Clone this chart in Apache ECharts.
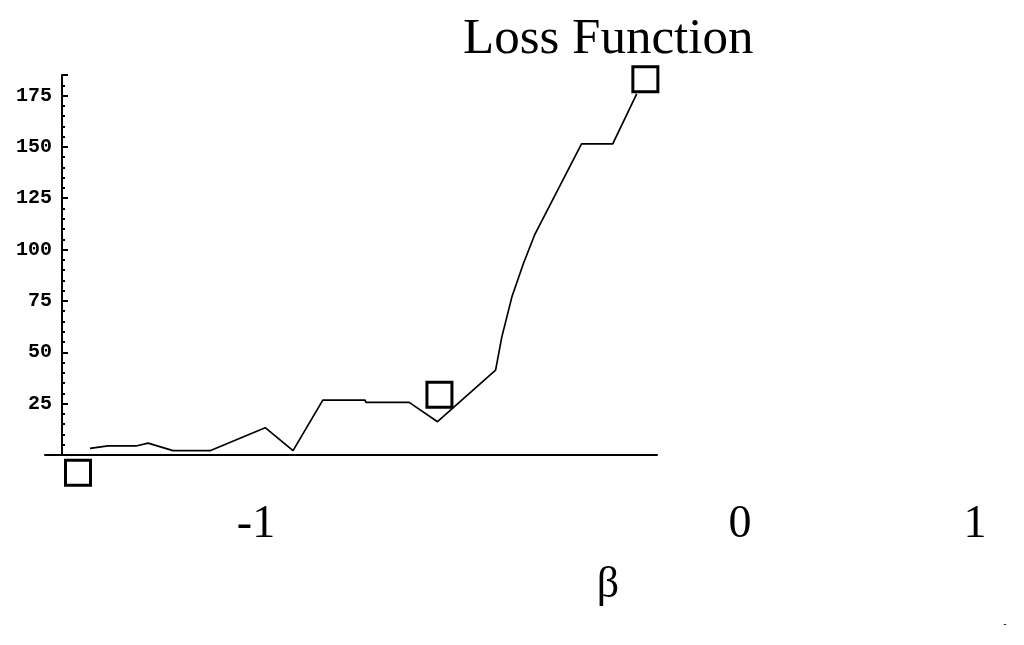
<!DOCTYPE html>
<html>
<head>
<meta charset="utf-8">
<script src="https://cdn.jsdelivr.net/npm/echarts@6/dist/echarts.min.js"></script>
<style>html,body{margin:0;padding:0;background:#fff}#c{width:1024px;height:645px}</style>
</head>
<body>
<div id="c"></div>
<script>
// Loss curve samples (beta, loss)
const betaValues = [-1.35, -1.3125, -1.254, -1.229, -1.177, -1.1, -0.985, -0.927, -0.865, -0.777, -0.775, -0.685, -0.626, -0.505, -0.492, -0.471, -0.447, -0.424, -0.326, -0.261, -0.211];
const lossValues = [3.2, 4.4, 4.4, 5.8, 2.1, 2.1, 13.3, 2.1, 26.7, 26.7, 25.6, 25.6, 16.2, 41.3, 57.5, 77.0, 93.2, 107.0, 151.5, 151.5, 175.8];
// Highlighted square markers
const markerBeta = [-1.375, -0.622, -0.193];
const markerLoss = [-8.7, 29.3, 182.9];
// Text
const titleText = 'Loss Function';
const xTickLabels = ['-1', '0', '1'];
const xAxisName = 'β';
const yTicks = [25, 50, 75, 100, 125, 150, 175];

const chart = echarts.init(document.getElementById('c'));
const serif = '"Liberation Serif", "Times New Roman", serif';
chart.setOption({
  animation: false,
  backgroundColor: '#fff',
  grid: { left: 45, right: 367, top: 75, bottom: 190, containLabel: false },
  xAxis: {
    type: 'value', min: -1.44375, max: -0.16875,
    axisLine: { show: true, onZero: true, lineStyle: { color: '#000', width: 2 } },
    axisTick: { show: false }, axisLabel: { show: false }, splitLine: { show: false }
  },
  yAxis: {
    type: 'value', min: 0, max: 185, interval: 25, offset: -17,
    axisLine: { show: true, lineStyle: { color: '#000', width: 2 } },
    axisTick: { show: true, inside: true, length: 6, lineStyle: { color: '#000', width: 2 } },
    minorTick: { show: true, splitNumber: 5, length: 3, lineStyle: { color: '#000', width: 2 } },
    axisLabel: {
      margin: 10, color: '#000', fontFamily: '"Liberation Mono", "DejaVu Sans Mono", monospace', fontSize: 20, fontWeight: 'bold',
      showMaxLabel: false,
      formatter: v => (yTicks.indexOf(v) >= 0 ? String(v) : '')
    },
    splitLine: { show: false }
  },
  series: [
    {
      type: 'line', data: betaValues.map((b, i) => [b, lossValues[i]]),
      showSymbol: false, symbol: 'none', lineStyle: { color: '#000', width: 1.7 }, z: 2
    },
    {
      type: 'scatter', data: markerBeta.map((b, i) => [b, markerLoss[i]]), clip: false,
      symbol: 'rect', symbolSize: 25,
      itemStyle: { color: 'rgba(255,255,255,0)', borderColor: '#000', borderWidth: 3, opacity: 1 }, z: 3
    }
  ],
  graphic: [
    { type: 'text', left: 463, top: 14, style: { text: titleText, font: '51px ' + serif, fill: '#000' } },
    { type: 'text', x: 256, y: 525, style: { text: xTickLabels[0], font: '46px ' + serif, fill: '#000', align: 'center', verticalAlign: 'middle' } },
    { type: 'text', x: 740, y: 525, style: { text: xTickLabels[1], font: '46px ' + serif, fill: '#000', align: 'center', verticalAlign: 'middle' } },
    { type: 'text', x: 975, y: 525, style: { text: xTickLabels[2], font: '46px ' + serif, fill: '#000', align: 'center', verticalAlign: 'middle' } },
    { type: 'text', x: 608, y: 585, style: { text: xAxisName, font: '44px ' + serif, fill: '#000', align: 'center', verticalAlign: 'middle' } },
    { type: 'text', x: 1005, y: 624, style: { text: '-', font: '10px ' + serif, fill: '#000', align: 'center', verticalAlign: 'middle' } }
  ]
});
</script>
</body>
</html>
